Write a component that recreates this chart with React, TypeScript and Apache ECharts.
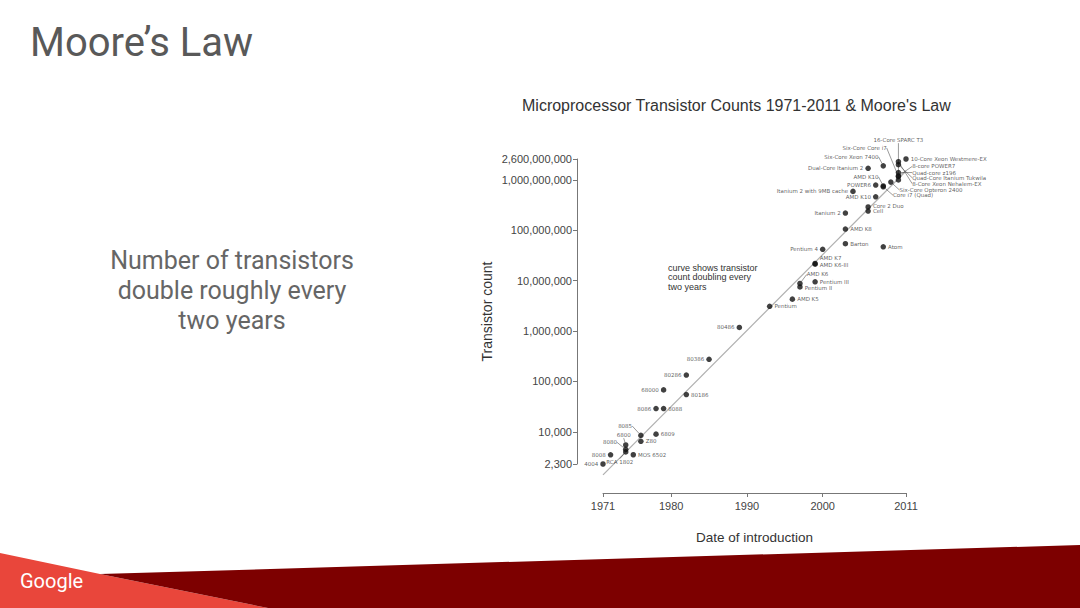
import React, { useEffect, useRef } from "react";
import * as echarts from "echarts";

// ---- data ----
const chipNames = [
  "4004", "8008", "8080", "6800", "RCA 1802", "MOS 6502", "8085", "Z80", "6809",
  "8086", "8088", "68000", "80186", "80286", "80386", "80486", "Pentium", "AMD K5",
  "Pentium II", "AMD K6", "Pentium III", "AMD K6-III", "AMD K7", "Pentium 4", "Barton",
  "AMD K8", "Itanium 2", "Cell", "Core 2 Duo", "Atom", "Itanium 2 with 9MB cache",
  "AMD K10", "POWER6", "AMD K10", "Core i7 (Quad)", "Six-Core Opteron 2400",
  "Dual-Core Itanium 2", "Six-Core Xeon 7400", "Six-Core Core i7", "16-Core SPARC T3",
  "8-core POWER7", "Quad-core z196", "Quad-Core Itanium Tukwila", "8-Core Xeon Nehalem-EX",
  "10-Core Xeon Westmere-EX",
];
const chipYears = [
  1971, 1972, 1974, 1974, 1974, 1975, 1976, 1976, 1978,
  1978, 1979, 1979, 1982, 1982, 1985, 1989, 1993, 1996,
  1997, 1997, 1999, 1999, 1999, 2000, 2003,
  2003, 2003, 2006, 2006, 2008, 2004,
  2007, 2007, 2008, 2008, 2009,
  2006, 2008, 2010, 2010,
  2010, 2010, 2010, 2010,
  2011,
];
const chipCounts = [
  2300, 3500, 4500, 5500, 4000, 3510, 8500, 6500, 9000,
  29000, 29000, 68000, 55000, 134000, 275000, 1180000, 3100000, 4300000,
  7500000, 8800000, 9500000, 21300000, 22000000, 42000000, 54300000,
  105900000, 220000000, 241000000, 291000000, 47000000, 592000000,
  463000000, 789000000, 758000000, 731000000, 904000000,
  1700000000, 1900000000, 1170000000, 1000000000,
  1200000000, 1400000000, 2000000000, 2300000000,
  2600000000,
];

const yTickValues = [2300, 10000, 100000, 1000000, 10000000, 100000000, 1000000000, 2600000000];
const yTickLabels = ["2,300", "10,000", "100,000", "1,000,000", "10,000,000", "100,000,000", "1,000,000,000", "2,600,000,000"];
const xTickValues = [1971, 1980, 1990, 2000, 2011];

const mooreYears = [1971, 2011];
const mooreCounts = [1400, 1500000000];

// ---- label placement (layout only): [position, dx, dy, leader line] ----
const labelPlacement: [string, number, number, boolean][] = [
  ["left", 0, 0, false], ["left", 0, 0, false], ["left", -4, -7, true], ["top", -2, -2, true],
  ["bottom", -6, 2, true], ["right", 0, 0, false], ["left", -4, -9.5, true], ["right", 0, 0, false],
  ["right", 0, 0, false],
  ["left", 0, 0, false], ["right", 0, 0, false], ["left", 0, 0, false], ["right", 0, 0, false],
  ["left", 0, 0, false], ["left", 0, 0, false], ["left", 0, 0, false], ["right", 0, 0, false],
  ["right", 0, 0, false],
  ["right", 0, 1, false], ["right", 2, -9, true], ["right", 0, 0, false], ["right", 0, 1, false],
  ["right", 0, -5, false], ["left", 0, 0, false], ["right", 0, 0, false],
  ["right", 0, 0, false], ["left", 0, 0, false], ["right", 0, 0, false], ["right", 0, -1, false],
  ["right", 0, 0, false], ["left", 0, 0, false],
  ["left", 0, 0, false], ["left", 0, 0, false], ["left", 0, -9, true], ["right", 5, 8.5, true],
  ["right", 4, 8, true],
  ["left", 0, 0, false], ["left", 0, -9, true], ["left", -7, -28.5, true], ["top", 0, -32, true],
  ["right", 9, -9.5, true], ["right", 9, 0, true], ["right", 9, 13, true], ["right", 9, 22, true],
  ["right", 0, 0, false],
];

export default function App() {
  const ref = useRef<HTMLDivElement>(null);

  useEffect(() => {
    if (!ref.current) return;
    const chart = echarts.init(ref.current, null, { renderer: "svg" });
    const lg = (v: number) => Math.log10(v);
    const yTickLogs = yTickValues.map(lg);
    const yMin = yTickLogs[0];
    const yMax = yTickLogs[yTickLogs.length - 1];
    const fmtY = (v: number) => {
      let best = 0;
      let bd = Infinity;
      yTickLogs.forEach((t, i) => {
        const d = Math.abs(t - v);
        if (d < bd) { bd = d; best = i; }
      });
      return yTickLabels[best];
    };

    const points = chipNames.map((n, i) => {
      const p = labelPlacement[i];
      return {
        name: n,
        value: [chipYears[i], lg(chipCounts[i])],
        label: { position: p[0], distance: 2 },
        labelLine: { show: p[3] },
      };
    });

    const chartFont = "Liberation Sans, Arial, sans-serif";
    const slideFont = "Roboto, sans-serif";

    chart.setOption({
      animation: false,
      backgroundColor: "#ffffff",
      title: {
        text: "Microprocessor Transistor Counts 1971-2011 & Moore's Law",
        left: 522,
        top: 97,
        padding: 0,
        textStyle: { fontSize: 16, fontWeight: "normal", color: "#333", fontFamily: chartFont },
      },
      grid: { left: 603, right: 174, top: 159, bottom: 144 },
      xAxis: {
        type: "value",
        min: xTickValues[0],
        max: xTickValues[xTickValues.length - 1],
        offset: 29,
        name: "Date of introduction",
        nameLocation: "middle",
        nameGap: 37,
        nameTextStyle: { fontSize: 13.5, color: "#333", fontFamily: chartFont },
        axisLine: { show: true, lineStyle: { color: "#777", width: 1 } },
        axisTick: { show: true, length: 4, customValues: xTickValues, lineStyle: { color: "#777" } },
        axisLabel: {
          customValues: xTickValues,
          formatter: (v: number) => String(v),
          fontSize: 11,
          color: "#444",
          margin: 7,
          fontFamily: chartFont,
        },
        splitLine: { show: false },
      },
      yAxis: {
        type: "value",
        min: yMin,
        max: yMax,
        offset: 26,
        name: "Transistor count",
        nameLocation: "middle",
        nameGap: 83,
        nameTextStyle: { fontSize: 14, color: "#333", fontFamily: chartFont },
        axisLine: { show: true, lineStyle: { color: "#777", width: 1 } },
        axisTick: { show: true, length: 4, customValues: yTickLogs, lineStyle: { color: "#777" } },
        axisLabel: {
          customValues: yTickLogs,
          formatter: fmtY,
          fontSize: 11,
          color: "#444",
          margin: 5,
          fontFamily: chartFont,
        },
        splitLine: { show: false },
      },
      series: [
        {
          type: "line",
          data: mooreYears.map((y, i) => [y, lg(mooreCounts[i])]),
          showSymbol: false,
          symbol: "none",
          clip: false,
          lineStyle: { color: "#b0b0b0", width: 1.2 },
          z: 1,
          silent: true,
        },
        {
          type: "scatter",
          data: points,
          symbol: "circle",
          symbolSize: 5.5,
          clip: false,
          itemStyle: { color: "#111" },
          label: {
            show: true,
            formatter: "{b}",
            fontSize: 5.5,
            color: "#333",
            fontFamily: "DejaVu Sans, sans-serif",
          },
          labelLine: { show: false, lineStyle: { color: "#555", width: 0.6 } },
          labelLayout: (params: any) => {
            const p = labelPlacement[params.dataIndex];
            return p ? { dx: p[1], dy: p[2] } : {};
          },
          z: 3,
        },
      ],
      graphic: [
        {
          type: "polygon",
          shape: { points: [[0, 553], [100, 574], [268, 608], [0, 608]] },
          style: { fill: "#e9463b" },
          silent: true,
        },
        {
          type: "polygon",
          shape: { points: [[100, 574], [1080, 545], [1080, 608], [268, 608]] },
          style: { fill: "#7d0000" },
          silent: true,
        },
        {
          type: "text",
          x: 20,
          y: 581,
          style: {
            text: "Google",
            fill: "#ffffff",
            font: "20px Roboto, 'Open Sans', sans-serif",
            verticalAlign: "middle",
            align: "left",
          },
          silent: true,
        },
        {
          type: "text",
          x: 30,
          y: 42,
          style: {
            text: "Moore’s Law",
            fill: "#595959",
            font: `40px ${slideFont}`,
            verticalAlign: "middle",
            align: "left",
          },
          silent: true,
        },
        {
          type: "text",
          x: 232,
          y: 260,
          style: { text: "Number of transistors", fill: "#666", font: `25px ${slideFont}`, align: "center", verticalAlign: "middle" },
          silent: true,
        },
        {
          type: "text",
          x: 232,
          y: 290,
          style: { text: "double roughly every", fill: "#666", font: `25px ${slideFont}`, align: "center", verticalAlign: "middle" },
          silent: true,
        },
        {
          type: "text",
          x: 232,
          y: 320,
          style: { text: "two years", fill: "#666", font: `25px ${slideFont}`, align: "center", verticalAlign: "middle" },
          silent: true,
        },
        {
          type: "text",
          x: 668,
          y: 263,
          style: {
            text: "curve shows transistor\ncount doubling every\ntwo years",
            fill: "#333",
            font: "9px 'Liberation Sans', Arial, sans-serif",
            lineHeight: 9.5,
            align: "left",
            verticalAlign: "top",
          },
          silent: true,
        },
      ],
    });

    return () => chart.dispose();
  }, []);

  return (
    <div
      ref={ref}
      style={{ position: "fixed", left: 0, top: 0, width: 1080, height: 608, background: "#fff" }}
    />
  );
}
